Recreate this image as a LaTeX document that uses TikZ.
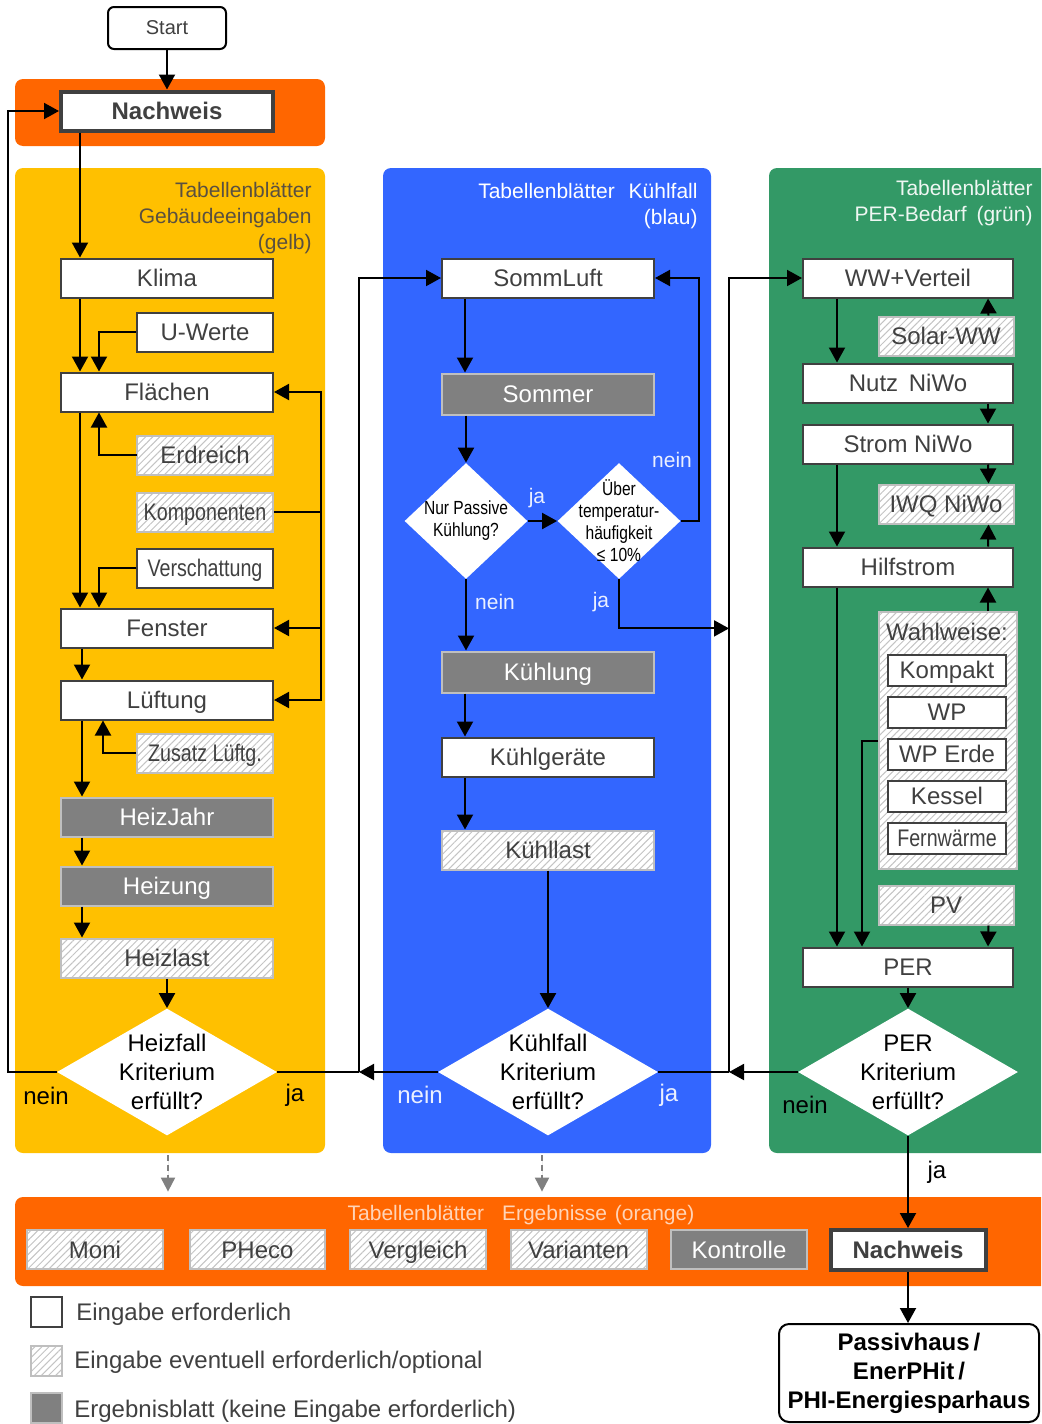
\documentclass[tikz,border=0pt]{standalone}
\usepackage{fontspec}
\setmainfont{Liberation Sans}
\newfontfamily\schmal[FakeStretch=0.82]{Liberation Sans}
\usetikzlibrary{shapes.geometric,arrows.meta,patterns.meta}

\definecolor{gelb}{HTML}{FFC000}
\definecolor{blau}{HTML}{3366FF}
\definecolor{gruen}{HTML}{339966}
\definecolor{orangeband}{HTML}{FF6600}
\definecolor{dunkel}{HTML}{404040}
\definecolor{mittelgrau}{HTML}{808080}
\definecolor{hellgrau}{HTML}{BFBFBF}
\definecolor{schraffur}{HTML}{C4C4C4}
\definecolor{kopfgelb}{HTML}{5A5040}

\begin{document}
\begin{tikzpicture}[
            x=0.5pt, y=-0.5pt,
            panel/.style={rectangle, rounded corners=4pt, inner sep=0pt},
            sheet/.style={rectangle, line width=1pt, text=dunkel, minimum width=106pt, minimum height=19.5pt, inner sep=0pt, text height=9.5pt, text depth=1pt, font=\fontsize{12}{14}\selectfont},
            kurz/.style={minimum width=68pt},
            eingabe/.style={sheet, draw=dunkel, fill=white},
            optional/.style={sheet, draw=hellgrau, preaction={fill=white}, pattern={Lines[angle=45,distance=2.5pt,line width=0.5pt]}, pattern color=schraffur},
            ergebnis/.style={sheet, draw=hellgrau, fill=mittelgrau, text=white},
            auswahl/.style={eingabe, minimum width=59pt, minimum height=15.5pt},
            schmalfont/.style={font=\schmal\fontsize{12}{14}\selectfont},
            abfrage/.style={diamond, fill=white, inner sep=-8pt, aspect=1.73, minimum width=110pt, minimum height=63.5pt, align=center, font=\fontsize{12}{14.5}\selectfont},
            klein/.style={diamond, fill=white, inner sep=-8pt, minimum width=61.5pt, minimum height=58pt, align=center, font=\schmal\fontsize{9.5}{11}\selectfont},
            kopf/.style={anchor=north east, align=right, inner sep=0pt, font=\fontsize{10.5}{13}\selectfont},
            marke/.style={inner sep=0pt, font=\fontsize{12}{14}\selectfont},
            kleinmarke/.style={inner sep=0pt, text=white!90!blau, font=\fontsize{10.5}{12}\selectfont},
            legende/.style={anchor=base west, inner sep=0pt, text=dunkel, font=\fontsize{12}{14}\selectfont},
            arrow/.style={-{Triangle[length=7.5pt,width=8pt]}, line width=1pt},
            hinweis/.style={-{Triangle[length=7pt,width=7pt]}, line width=1pt, draw=mittelgrau, fill=mittelgrau, dash pattern=on 3pt off 2pt}
        ]
            \useasboundingbox (0,0) rectangle (1041,1424);
            \clip (0,0) rectangle (1041,1424);

% Background panels
            \node (kopfband) [panel, fill=orangeband, minimum width=155pt, minimum height=33.5pt] at (170,112.5) {};
            \node (gelbfeld) [panel, fill=gelb, minimum width=155pt, minimum height=492.5pt] at (170,660.5) {};
            \node (blaufeld) [panel, fill=blau, minimum width=164pt, minimum height=492.5pt] at (547,660.5) {};
            \node (gruenfeld) [panel, fill=gruen, minimum width=150pt, minimum height=492.5pt] at (919,660.5) {};
            \node (ergebnisband) [panel, fill=orangeband, minimum width=527.5pt, minimum height=44.5pt] at (542.5,1241.5) {};

% Panel headings
            \node (kopfgelb) [kopf, text=kopfgelb] at (312,182) {Tabellenblätter\\Gebäudeeingaben\\(gelb)};
            \node (kopfblau) [kopf, text=white] at (698,183) {Tabellenblätter\hspace{4pt} Kühlfall\\(blau)};
            \node (kopfgruen) [kopf, text=white!92!gruen] at (1033,180) {Tabellenblätter\\PER-Bedarf\hspace{2pt} (grün)};
            \node (kopfergebnis) [kopf, anchor=base, text=white!72!orangeband] at (521,1220) {Tabellenblätter\hspace{6pt} Ergebnisse\hspace{1pt} (orange)};

% Start and Nachweis
            \node (start) [draw, rounded corners=3pt, line width=1pt, minimum width=59pt, minimum height=21pt, text=dunkel, font=\fontsize{10}{12}\selectfont] at (167,28) {Start};
            \node (nachweis) [eingabe, line width=2pt, font=\bfseries\fontsize{12}{14}\selectfont] at (167,111) {Nachweis};

% Gebaeudeeingaben (gelb)
            \node (klima) [eingabe] at (167,278) {Klima};
            \node (uwerte) [eingabe, kurz] at (205,332) {U-Werte};
            \node (flaechen) [eingabe] at (167,392) {Flächen};
            \node (erdreich) [optional, kurz] at (205,455) {Erdreich};
            \node (komponenten) [optional, kurz, schmalfont] at (205,512) {Komponenten};
            \node (verschattung) [eingabe, kurz, schmalfont] at (205,568) {Verschattung};
            \node (fenster) [eingabe] at (167,628) {Fenster};
            \node (lueftung) [eingabe] at (167,700) {Lüftung};
            \node (zusatz) [optional, kurz, schmalfont] at (205,753) {Zusatz Lüftg.};
            \node (heizjahr) [ergebnis] at (167,817) {HeizJahr};
            \node (heizung) [ergebnis] at (167,886) {Heizung};
            \node (heizlast) [optional] at (167,958) {Heizlast};
            \node (heizfall) [abfrage] at (167,1072) {Heizfall\\Kriterium\\erfüllt?};

% Kuehlfall (blau)
            \node (sommluft) [eingabe] at (548,278) {SommLuft};
            \node (sommer) [ergebnis, minimum height=20.5pt] at (548,394) {Sommer};
            \node (passiv) [klein] at (466,521) {Nur Passive\\Kühlung?};
            \node (ueber) [klein] at (619,521) {Über\\temperatur-\\häufigkeit\\≤ 10\%};
            \node (kuehlung) [ergebnis, minimum height=20.5pt] at (548,672) {Kühlung};
            \node (kuehlgeraete) [eingabe] at (548,757) {Kühlgeräte};
            \node (kuehllast) [optional] at (548,850) {Kühllast};
            \node (kuehlfall) [abfrage] at (548,1072) {Kühlfall\\Kriterium\\erfüllt?};

% PER-Bedarf (gruen)
            \node (wwverteil) [eingabe, minimum width=105pt] at (908,278) {WW+Verteil};
            \node (solarww) [optional, minimum width=67.5pt] at (946,336) {Solar-WW};
            \node (nutz) [eingabe, minimum width=105pt] at (908,383) {Nutz\hspace{2pt} NiWo};
            \node (strom) [eingabe, minimum width=105pt] at (908,444) {Strom NiWo};
            \node (iwq) [optional, minimum width=67.5pt] at (946,504) {IWQ NiWo};
            \node (hilfstrom) [eingabe, minimum width=105pt] at (908,567) {Hilfstrom};
            \node (wahlweise) [optional, minimum width=69pt, minimum height=128.5pt] at (948,740.5) {};
            \node (wahltitel) [inner sep=0pt, text=dunkel, font=\fontsize{12}{14}\selectfont] at (947,632) {Wahlweise:};
            \node (kompakt) [auswahl] at (947,670) {Kompakt};
            \node (wp) [auswahl] at (947,712) {WP};
            \node (wperde) [auswahl] at (947,754) {WP Erde};
            \node (kessel) [auswahl] at (947,796) {Kessel};
            \node (fernwaerme) [auswahl, schmalfont] at (947,838) {Fernwärme};
            \node (pv) [optional, minimum width=67.5pt] at (946,905) {PV};
            \node (per) [eingabe, minimum width=105pt] at (908,967) {PER};
            \node (perkrit) [abfrage] at (908,1072) {PER\\Kriterium\\erfüllt?};

% Ergebnisse (orange)
            \node (moni) [optional, kurz] at (95,1249.5) {Moni};
            \node (pheco) [optional, minimum width=67.5pt] at (257.5,1249.5) {PHeco};
            \node (vergleich) [optional, kurz] at (418,1249.5) {Vergleich};
            \node (varianten) [optional, kurz] at (578.5,1249.5) {Varianten};
            \node (kontrolle) [ergebnis, kurz] at (739,1249.5) {Kontrolle};
            \node (nachweisende) [eingabe, line width=2pt, minimum width=77.5pt, minimum height=20pt, font=\bfseries\fontsize{12}{14}\selectfont] at (908,1250) {Nachweis};
            \node (zertifikat) [draw, rounded corners=5pt, line width=1pt, minimum width=130pt, minimum height=49pt, inner sep=0pt, align=center, font=\bfseries\fontsize{12}{14.5}\selectfont] at (909,1373) {Passivhaus\,/\\EnerPHit\,/\\PHI-Energiesparhaus};

% Legend
            \node (legeingabe) [eingabe, minimum width=15.5pt, minimum height=15pt] at (46.5,1312) {};
            \node (legoptional) [optional, minimum width=15.5pt, minimum height=15pt] at (46.5,1360.5) {};
            \node (legergebnis) [ergebnis, minimum width=15.5pt, minimum height=15pt] at (46.5,1408) {};
            \node (texteingabe) [legende] at (76,1320) {Eingabe erforderlich};
            \node (textoptional) [legende] at (74,1368) {Eingabe eventuell erforderlich/optional};
            \node (textergebnis) [legende] at (74,1417) {Ergebnisblatt (keine Eingabe erforderlich)};

% Junction points
            \coordinate (links) at ([xshift=-24.5pt]heizfall.west);
            \coordinate (kjoin) at ([xshift=-41pt]sommluft.west |- kuehlfall.west);
            \coordinate (kbus) at ([xshift=23.5pt]komponenten.east);
            \coordinate (gbus) at ([xshift=-36.5pt]wwverteil.west);
            \coordinate (jaknick) at ([yshift=-24.5pt]ueber.south);

% Arrows in the yellow panel
            \draw [arrow] (start.south) -- (nachweis.north);
            \draw [arrow] ([xshift=10pt]klima.north west |- nachweis.south) -- ([xshift=10pt]klima.north west);
            \draw [arrow] ([xshift=10pt]klima.south west) -- ([xshift=10pt]flaechen.north west);
            \draw [arrow] (uwerte.west) -| ([xshift=19.5pt]flaechen.north west);
            \draw [arrow] (erdreich.west) -| ([xshift=19.5pt]flaechen.south west);
            \draw [arrow] ([xshift=10pt]flaechen.south west) -- ([xshift=10pt]fenster.north west);
            \draw [arrow] (verschattung.west) -| ([xshift=19.5pt]fenster.north west);
            \draw [line width=1pt] (komponenten.east) -- (kbus);
            \draw [arrow] (kbus) |- (flaechen.east);
            \draw [arrow] (kbus) |- (fenster.east);
            \draw [arrow] (kbus) |- (lueftung.east);
            \draw [arrow] ([xshift=11pt]fenster.south west) -- ([xshift=11pt]lueftung.north west);
            \draw [arrow] ([xshift=11pt]lueftung.south west) -- ([xshift=11pt]heizjahr.north west);
            \draw [arrow] (zusatz.west) -| ([xshift=21.5pt]lueftung.south west);
            \draw [arrow] ([xshift=11pt]heizjahr.south west) -- ([xshift=11pt]heizung.north west);
            \draw [arrow] ([xshift=11pt]heizung.south west) -- ([xshift=11pt]heizlast.north west);
            \draw [arrow] (heizlast.south) -- (heizfall.north);
            \draw [arrow] (heizfall.west) -- (links) |- (nachweis.west);
            \draw [line width=1pt] (heizfall.east) -- (kjoin);

% Arrows in the blue panel
            \draw [arrow] (kuehlfall.west) -- (kjoin);
            \draw [arrow] (kjoin) |- (sommluft.west);
            \draw [arrow] ([xshift=12pt]sommluft.south west) -- ([xshift=12pt]sommer.north west);
            \draw [arrow] (passiv.north |- sommer.south) -- (passiv.north);
            \draw [arrow] (passiv.east) -- (ueber.west);
            \draw [arrow] (ueber.east) -| ([xshift=22pt]sommluft.east) -- (sommluft.east);
            \draw [arrow] (ueber.south) -- (jaknick) -- (gbus |- jaknick);
            \draw [arrow] (passiv.south) -- (passiv.south |- kuehlung.north);
            \draw [arrow] ([xshift=12pt]kuehlung.south west) -- ([xshift=12pt]kuehlgeraete.north west);
            \draw [arrow] ([xshift=12pt]kuehlgeraete.south west) -- ([xshift=12pt]kuehllast.north west);
            \draw [arrow] (kuehllast.south) -- (kuehlfall.north);
            \draw [line width=1pt] (kuehlfall.east) -- (gbus |- kuehlfall.east);

% Arrows in the green panel
            \draw [arrow] (perkrit.west) -- (gbus |- perkrit.west);
            \draw [arrow] (gbus |- perkrit.west) -- (gbus) -- (wwverteil.west);
            \draw [arrow] ([xshift=17.5pt]wwverteil.south west) -- ([xshift=17.5pt]nutz.north west);
            \draw [arrow] ([xshift=-13pt]solarww.north east) -- ([xshift=-13pt]wwverteil.south east);
            \draw [arrow] ([xshift=-13pt]nutz.south east) -- ([xshift=-13pt]strom.north east);
            \draw [arrow] ([xshift=-13pt]strom.south east) -- ([xshift=-13pt]iwq.north east);
            \draw [arrow] ([xshift=17.5pt]strom.south west) -- ([xshift=17.5pt]hilfstrom.north west);
            \draw [arrow] ([xshift=-13pt]hilfstrom.north east) -- ([xshift=-13pt]iwq.south east);
            \draw [arrow] ([xshift=-13pt]hilfstrom.south east |- wahlweise.north) -- ([xshift=-13pt]hilfstrom.south east);
            \draw [arrow] ([xshift=17.5pt]hilfstrom.south west) -- ([xshift=17.5pt]per.north west);
            \draw [arrow] (wahlweise.west) -| ([xshift=30pt]per.north west);
            \draw [arrow] ([xshift=-13pt]pv.south east) -- ([xshift=-13pt]per.north east);
            \draw [arrow] (per.south) -- (perkrit.north);
            \draw [arrow] (perkrit.south) -- (perkrit.south |- nachweisende.north);
            \draw [arrow] (nachweisende.south) -- (nachweisende.south |- zertifikat.north);

% Dashed hints to the results
            \draw [hinweis, shorten <=1pt, shorten >=2.5pt] ([xshift=-1pt]gelbfeld.south) -- ([xshift=-1pt]gelbfeld.south |- ergebnisband.north);
            \draw [hinweis, shorten <=1pt, shorten >=2.5pt] ([xshift=-2.5pt]blaufeld.south) -- ([xshift=-2.5pt]blaufeld.south |- ergebnisband.north);

% Labels
            \node (neinheiz) [marke] at (46,1096) {nein};
            \node (jaheiz) [marke] at (295,1095) {ja};
            \node (neinkuehl) [marke, text=white!90!blau] at (420,1095) {nein};
            \node (jakuehl) [marke, text=white!90!blau] at (669,1095) {ja};
            \node (japassiv) [kleinmarke] at (537,498) {ja};
            \node (neinueber) [kleinmarke] at (672,460) {nein};
            \node (neinpassiv) [kleinmarke] at (495,602) {nein};
            \node (jaueber) [kleinmarke] at (601,602) {ja};
            \node (neinper) [marke] at (805,1105) {nein};
            \node (japer) [marke] at (937,1172) {ja};

        \end{tikzpicture}
\end{document}
